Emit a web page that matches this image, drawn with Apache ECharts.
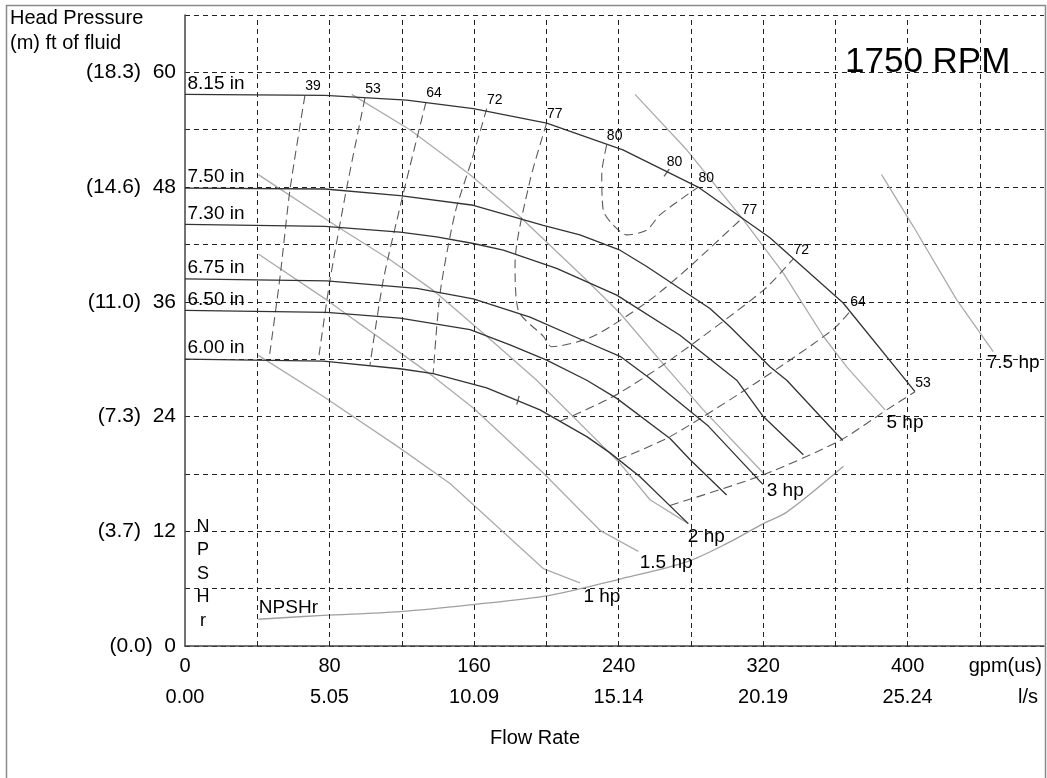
<!DOCTYPE html>
<html><head><meta charset="utf-8">
<script src="https://cdn.jsdelivr.net/npm/echarts@6/dist/echarts.min.js"></script>
<style>html,body{margin:0;padding:0;background:#fff}#c{width:1047px;height:778px}</style>
</head><body><div id="c"></div>
<script>
// ---------- tick labels ----------
const gpmTicks = [0, 80, 160, 240, 320, 400];
const lpsTicks = ['0.00', '5.05', '10.09', '15.14', '20.19', '25.24'];
const ftTicks = [0, 12, 24, 36, 48, 60];
const mTicks = ['(0.0)', '(3.7)', '(7.3)', '(11.0)', '(14.6)', '(18.3)'];
const gridGpm = [40, 80, 120, 160, 200, 240, 280, 320, 360, 400, 440];

// ---------- impeller head curves [gpm, ft] ----------
const imp815 = [[0,57.7],[77.5,57.6],[122.7,57.1],[159.6,56.2],[200.2,54.7],[242.4,51.9],[284,48.0],[323.8,42.7],[364.2,35.9],[404.1,26.6]];
const imp750 = [[0,47.9],[77.5,47.8],[119,47.1],[159.6,46.1],[198.3,44.0],[218.6,43.0],[240.8,41.4],[255.6,39.7],[290.6,35.3],[301.7,33.4],[323.8,29.2],[333.1,27.8],[364.1,21.5]];
const imp730 = [[0,44.1],[77.5,43.9],[119,43.3],[139.3,42.8],[159.6,42.1],[176.2,41.4],[205.7,39.5],[239,36.7],[274,32.5],[305.4,27.8],[320.1,24.0],[342.3,20.0]];
const imp675 = [[0,38.4],[78.4,38.2],[128.3,37.4],[159.6,36.3],[191,34.4],[222.4,31.8],[240.8,30.3],[256.5,28.1],[289.7,23.0],[319.9,16.9]];
const imp650 = [[0,35.1],[78.4,34.9],[119,34.3],[157.8,33.1],[179.9,31.5],[200.2,29.9],[222.4,27.8],[239,25.9],[268.5,21.7],[279.5,19.5],[299.8,15.8]];
const imp600 = [[0,30.0],[76.6,29.8],[119,29.0],[137.4,28.5],[167,27.0],[196.5,24.7],[222.4,21.9],[235.3,20.2],[251.9,17.7],[278.6,12.8]];
const impellerNames = ['8.15 in', '7.50 in', '7.30 in', '6.75 in', '6.50 in', '6.00 in'];

// ---------- iso-efficiency curves (%) ----------
const eff39 = [[66.4,57.6],[58.1,47.7],[52.6,38.6],[46.5,30.0]];
const eff53 = [[99.6,57.3],[89.5,47.9],[80.3,38.3],[73.8,29.9]];
const eff64 = [[133.4,56.9],[120.8,47.3],[109.8,38.3],[102.4,29.4]];
const eff72 = [[167,56.2],[158.7,50.8],[149.5,45.3],[141.2,36.9],[137.4,28.5]];
const eff77 = [[200.2,54.7],[191,48.7],[182.7,40.0],[184.5,35.1],[198.3,32.4],[203,31.3],[226,32.4],[257.4,36.2],[279.5,39.7],[308.1,44.7]];
const eff80 = [[233.4,52.4],[230.7,49.4],[231.5,45.6],[236.2,44.2],[244.5,43.0],[255.6,43.5],[262.9,45.1],[284.1,48.0]];
const eff72R = [[207.6,23.5],[237.1,26.1],[268.5,29.9],[320.1,37.2],[336.7,40.5]];
const eff64R = [[239.8,19.5],[268.5,21.9],[318.3,27.8],[358.7,33.1],[368.1,35.0]];
const eff53R = [[268.5,14.7],[320.1,17.9],[362.6,21.5],[388.4,24.7],[404.1,26.6]];

// ---------- power curves ----------
const hp1 = [[40.6,30.4],[76.6,26.1],[119,20.7],[146.7,17.0],[198.3,8.1],[218.6,6.6]];
const hp15 = [[40.6,41.0],[78.4,36.2],[137.4,28.2],[159.6,24.9],[198.3,18.1],[229.7,12.1],[250.9,9.9]];
const hp2 = [[40.6,49.3],[84,43.9],[113.5,40.4],[137.4,37.2],[167,32.4],[194.7,27.8],[240.8,19.1],[257.4,15.3],[278.6,12.8]];
const hp3 = [[92.3,57.7],[124.5,54.0],[157.8,49.3],[185.4,44.9],[220.5,38.6],[240.8,34.8],[262.9,29.9],[286.9,24.7],[320.1,18.1]];
const hp5 = [[249.1,57.7],[277.7,51.9],[309,44.6],[331.2,39.0],[353.3,32.4],[366.3,29.2],[387.5,24.7]];
const hp75 = [[385.6,49.3],[403.1,43.9],[427.2,36.2],[447.4,30.8]];
const hpNames = ['1 hp', '1.5 hp', '2 hp', '3 hp', '5 hp', '7.5 hp'];

// ---------- NPSHr ----------
const npshr = [[40.6,2.8],[76.6,3.2],[119,3.6],[157.8,4.3],[202,5.3],[240.8,7.0],[277.7,8.8],[299.8,10.7],[320.1,12.8],[333.1,14.0],[364.5,18.8]];

// ---------- best-efficiency tick marks ----------
const bepMarks = [[266.6,49.5],[184.3,25.7]];
const bepLabels = ['80', ''];

// ================= build =================
const FONT = '"Liberation Sans", Arial, Helvetica, sans-serif';
const INK = '#000';
const impellers = [imp815, imp750, imp730, imp675, imp650, imp600].map((d, i) => ({name: impellerNames[i], data: d}));
const effCurves = [
  {name:'39', data:eff39, ends:[0]}, {name:'53', data:eff53, ends:[0]},
  {name:'64', data:eff64, ends:[0]}, {name:'72', data:eff72, ends:[0]},
  {name:'77', data:eff77, ends:[0,1]}, {name:'80', data:eff80, ends:[0,1]},
  {name:'72', data:eff72R, ends:[1]}, {name:'64', data:eff64R, ends:[1]},
  {name:'53', data:eff53R, ends:[1]}
];
const hpCurves = [hp1, hp15, hp2, hp3, hp5, hp75].map((d, i) => ({name: hpNames[i], data: d}));
const hpLabelOffset = {'1 hp':[3,14], '1.5 hp':[1,11], '2 hp':[-1,13], '3 hp':[3,18], '5 hp':[1,13], '7.5 hp':[-7,11]};

const series = [];
// vertical dashed grid lines
series.push({
  type:'line', data:[], silent:true, symbol:'none', lineStyle:{width:0},
  markLine:{silent:true, symbol:['none','none'], label:{show:false},
    lineStyle:{type:[5,4], color:'#222', width:1},
    emphasis:{disabled:true},
    data: gridGpm.map(v => ({xAxis:v}))}
});
hpCurves.forEach(c => series.push({type:'line', name:c.name, data:c.data, symbol:'none', silent:true,
  lineStyle:{color:'#ababab', width:1.3}, z:3}));
series.push({type:'line', name:'NPSHr', data:npshr, symbol:'none', silent:true, smooth:0.3,
  lineStyle:{color:'#a0a0a0', width:1.3}, z:3});
effCurves.forEach(c => series.push({type:'line', name:'eff'+c.name, data:c.data, symbol:'none', silent:true, smooth:0.25,
  lineStyle:{color:'#5a5a5a', width:1.1, type:[9,5]}, z:4}));
impellers.forEach(c => series.push({type:'line', name:c.name, data:c.data, symbol:'none', silent:true,
  lineStyle:{color:'#333', width:1.3}, z:5}));

// BEP tick marks
series.push({type:'scatter', silent:true, symbol:'rect', symbolSize:[1.3,9], itemStyle:{color:'#333'},
  data: bepMarks.map((p, i) => ({value:p, symbolRotate: i === 0 ? -35 : -15})), z:6});

// text labels anchored to curve points
const lbl = (o) => Object.assign({color:INK, fontFamily:FONT, textBorderWidth:0, textShadowBlur:0}, o);
const labelData = [];
impellers.forEach(c => labelData.push({value:c.data[0], name:c.name,
  label:lbl({position:'right', distance:0, offset:[2,-11], fontSize:19})}));
hpCurves.forEach(c => labelData.push({value:c.data[c.data.length-1], name:c.name,
  label:lbl({position:'right', distance:0, offset:hpLabelOffset[c.name], fontSize:19})}));
labelData.push({value:npshr[0], name:'NPSHr', label:lbl({position:'right', distance:0, offset:[0,-11], fontSize:19})});
effCurves.forEach(c => c.ends.forEach(e => labelData.push({value: e === 0 ? c.data[0] : c.data[c.data.length-1], name:c.name,
  label:lbl({position:'inside', offset:[8,-9], fontSize:14})})));
bepMarks.forEach((p, i) => { if (bepLabels[i]) labelData.push({value:p, name:bepLabels[i],
  label:lbl({position:'inside', offset:[8,-11], fontSize:14})}); });
series.push({type:'scatter', silent:true, symbol:'circle', symbolSize:1, itemStyle:{color:'rgba(255,255,255,0)', opacity:1},
  label:lbl({show:true, formatter:'{b}'}), data:labelData, z:10});

const txt = (x, y, text, size, extra) => Object.assign({type:'text', silent:true, x:x, y:y,
  style:Object.assign({text:text, fill:INK, fontSize:size, fontFamily:FONT, textAlign:'left', textVerticalAlign:'middle', align:'left', verticalAlign:'middle'}, extra || {})});

const option = {
  animation:false,
  backgroundColor:'#fff',
  grid:{left:185, right:3, top:15, bottom:132, containLabel:false},
  xAxis:{type:'value', min:0, max:475.5, interval:40,
    axisLine:{show:true, onZero:false, lineStyle:{color:'#444', width:1.5}},
    axisTick:{show:false}, splitLine:{show:false},
    axisLabel:{showMaxLabel:false, margin:8, color:INK, fontFamily:FONT,
      formatter: v => { const i = gpmTicks.indexOf(v); return i < 0 ? '' : '{a|' + v + '}\n{b|' + lpsTicks[i] + '}'; },
      rich:{a:{fontSize:20, lineHeight:24, color:INK, fontFamily:FONT}, b:{fontSize:20, lineHeight:38, color:INK, fontFamily:FONT}}}
  },
  yAxis:{type:'value', min:0, max:66, interval:6,
    axisLine:{show:true, onZero:false, lineStyle:{color:'#444', width:1.5}},
    axisTick:{show:false},
    splitLine:{show:true, lineStyle:{type:[5,4], color:'#222', width:1}},
    axisLabel:{margin:9, fontSize:21, color:INK, fontFamily:FONT,
      formatter: v => { const i = ftTicks.indexOf(v); return i < 0 ? '' : mTicks[i] + '  ' + v; }}
  },
  graphic:[
    {type:'rect', silent:true, shape:{x:6.5, y:5.5, width:1039, height:800}, style:{fill:'none', stroke:'#8a8a8a', lineWidth:1.5}},
    txt(10, 18, 'Head Pressure', 20),
    txt(10, 43, '(m) ft of fluid', 20),
    txt(845, 62, '1750 RPM', 35),
    txt(203, 515, 'N\nP\nS\nH\nr', 18, {textAlign:'center', align:'center', textVerticalAlign:'top', verticalAlign:'top', lineHeight:23.5}),
    txt(1042, 666, 'gpm(us)', 20, {textAlign:'right', align:'right'}),
    txt(1038, 697, 'l/s', 20, {textAlign:'right', align:'right'}),
    txt(535, 738, 'Flow Rate', 20, {textAlign:'center', align:'center'})
  ],
  series: series
};
const chart = echarts.init(document.getElementById('c'), null, {renderer:'canvas'});
chart.setOption(option);
</script>
</body></html>
